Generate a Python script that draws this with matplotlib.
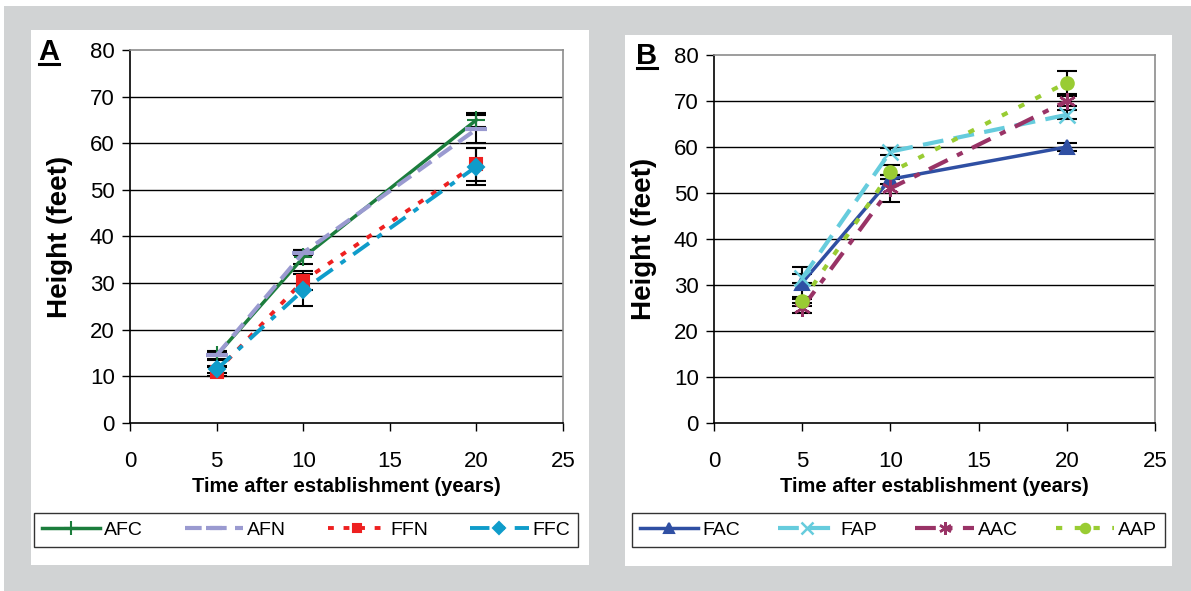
import matplotlib
matplotlib.use("Agg")
import matplotlib.pyplot as plt
from matplotlib.patches import Rectangle
from matplotlib.lines import Line2D

plt.rcParams["font.family"] = ["Liberation Sans", "DejaVu Sans"]

W, H = 1191, 591

# ---- data ----
years = [5, 10, 20]

# panel A
afc = [14.5, 35.5, 65.0]
afc_err = [1.0, 1.5, 1.5]
afn = [14.5, 36.5, 63.0]
afn_err = [0.8, 0.5, 3.0]
ffn = [11.0, 30.5, 55.5]
ffn_err = [1.0, 2.0, 3.5]
ffc = [11.5, 28.5, 55.0]
ffc_err = [0.8, 3.5, 4.0]

# panel B
fac = [30.5, 53.0, 60.0]
fac_err = [3.5, 1.0, 0.8]
fap = [31.5, 59.0, 67.0]
fap_err = [1.0, 0.8, 1.0]
aac = [25.0, 51.0, 70.0]
aac_err = [1.0, 3.0, 1.0]
aap = [26.5, 54.5, 74.0]
aap_err = [1.0, 1.5, 2.5]

x_ticks = [0, 5, 10, 15, 20, 25]
y_ticks = [0, 10, 20, 30, 40, 50, 60, 70, 80]


def frac(x0, y0, x1, y1):
    """pixel box (top-left origin) -> figure fraction rect"""
    return [x0 / W, 1 - y1 / H, (x1 - x0) / W, (y1 - y0) / H]


fig = plt.figure(figsize=(W / 100, H / 100), dpi=100, facecolor="white")

# gray backdrop + white panels
fig.patches.append(Rectangle((4 / W, 0), 1 - 4 / W, 1 - 6 / H, transform=fig.transFigure,
                             facecolor="#d1d3d4", edgecolor="none", zorder=-10))
for box in [(31, 30, 589, 565), (625, 35, 1172, 566)]:
    r = frac(*box)
    fig.patches.append(Rectangle((r[0], r[1]), r[2], r[3], transform=fig.transFigure,
                                 facecolor="white", edgecolor="none", zorder=-9))


def style_axes(ax):
    ax.set_xlim(0, 25)
    ax.set_ylim(0, 80)
    ax.set_xticks(x_ticks)
    ax.set_yticks(y_ticks)
    ax.tick_params(direction="out", length=6, width=1, labelsize=16, pad=5)
    ax.tick_params(axis="x", pad=14)
    for y in y_ticks[1:-1]:
        ax.axhline(y, color="black", lw=1, zorder=0)
    for s in ["top", "right"]:
        ax.spines[s].set_color("#8c8c8c")
        ax.spines[s].set_linewidth(1.2)
    for s in ["left", "bottom"]:
        ax.spines[s].set_color("black")
        ax.spines[s].set_linewidth(1.2)
    ax.set_facecolor("none")
    ax.set_ylabel("Height (feet)", fontsize=20, fontweight="bold", labelpad=12)
    ax.set_xlabel("Time after establishment (years)", fontsize=14.5, fontweight="bold", labelpad=4)


def series(ax, vals, errs, color, ls, lw, marker, ms, mew=1.5):
    ax.errorbar(years, vals, yerr=errs, fmt="none", ecolor="black", elinewidth=1.5,
                capsize=7, capthick=1.5, zorder=3)
    line, = ax.plot(years, vals, color=color, linestyle=ls, lw=lw, marker=marker,
                    markersize=ms, markeredgewidth=mew, markerfacecolor=color,
                    markeredgecolor=color, zorder=4)
    return line


def panel_letter(x, y, text):
    fig.text(x / W, 1 - y / H, text, fontsize=21, fontweight="bold", ha="left", va="baseline")
    fig.add_artist(Line2D([(x + 1) / W, (x + 21) / W], [1 - (y + 4) / H] * 2,
                          color="black", lw=2.2, transform=fig.transFigure))


def add_legend(ax, handles, labels, box):
    leg = ax.legend(handles, labels, ncol=4, mode="expand",
                    loc="center", bbox_to_anchor=frac(*box),
                    bbox_transform=fig.transFigure, fontsize=14, frameon=True,
                    fancybox=False, edgecolor="black", handlelength=3.0,
                    handletextpad=0.2, columnspacing=0.6, borderaxespad=0,
                    markerscale=0.75)
    leg.get_frame().set_linewidth(1)
    return leg


# ---- panel A ----
axA = fig.add_axes(frac(130, 50, 563, 423))
style_axes(axA)
hA = [
    series(axA, afc, afc_err, "#1b7d3c", "-", 2.5, "+", 13),
    series(axA, afn, afn_err, "#9a9ad0", (0, (4, 2)), 3, "_", 16, 3),
    series(axA, ffn, ffn_err, "#ee2020", (0, (1.5, 2.5)), 2.8, "s", 8),
    series(axA, ffc, ffc_err, "#0f9cca", (0, (5, 2.5, 1.5, 2.5)), 2.8, "D", 8),
]
add_legend(axA, hA, ["AFC", "AFN", "FFN", "FFC"], (34, 507, 578, 553))
panel_letter(38, 60, "A")

# ---- panel B ----
axB = fig.add_axes(frac(714, 55, 1155, 423))
style_axes(axB)
hB = [
    series(axB, fac, fac_err, "#2f4fa3", "-", 2.5, "^", 10),
    series(axB, fap, fap_err, "#66ccdd", (0, (5, 2.5)), 3, "x", 11, 1.8),
    series(axB, aac, aac_err, "#993366", (0, (5, 2.5, 1.5, 2.5)), 3, (6, 2, 0), 12, 1.8),
    series(axB, aap, aap_err, "#99cc33", (0, (1.5, 3)), 3, "o", 9),
]
add_legend(axB, hB, ["FAC", "FAP", "AAC", "AAP"], (632, 507, 1165, 553))
panel_letter(636, 64, "B")

fig.savefig("out.png", dpi=100, facecolor="white")
